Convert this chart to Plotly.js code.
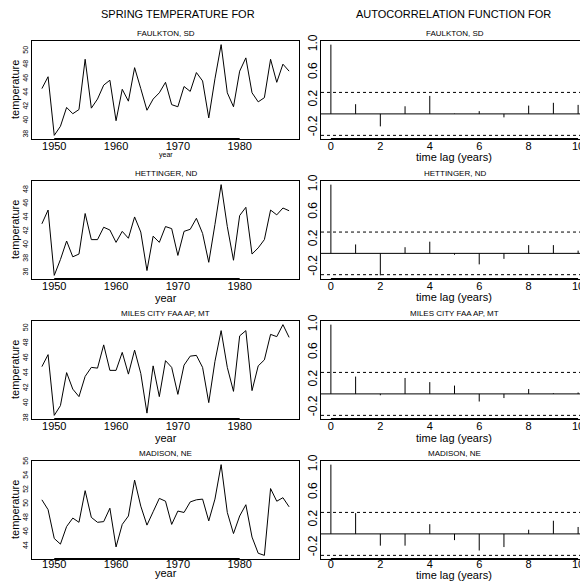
<!DOCTYPE html>
<html><head><meta charset="utf-8">
<script src="https://cdn.plot.ly/plotly-3.0.1.min.js"></script>
<style>html,body{margin:0;padding:0;overflow:hidden;background:#fff;}</style>
</head><body><div id="chart"></div>
<script>
// ---------- data ----------
const years = [1948,1949,1950,1951,1952,1953,1954,1955,1956,1957,1958,1959,1960,1961,1962,1963,1964,1965,1966,1967,1968,1969,1970,1971,1972,1973,1974,1975,1976,1977,1978,1979,1980,1981,1982,1983,1984,1985,1986,1987,1988];
const stations = ["FAULKTON, SD","HETTINGER, ND","MILES CITY FAA AP, MT","MADISON, NE"];
const faulkton = [44.6,46.3,37.9,39.2,41.9,41.0,41.6,48.8,41.8,43.1,45.1,45.8,40.0,44.5,42.8,47.6,44.6,41.5,43.1,44.0,45.5,42.3,42.0,44.9,44.2,46.9,45.7,40.4,46.0,50.9,44.0,42.0,47.1,49.0,44.0,42.7,43.3,48.8,45.5,48.1,47.1];
const hettinger = [43.1,45.1,35.6,37.9,40.6,38.3,38.7,44.6,40.8,40.8,42.6,42.2,40.4,42.0,41.0,44.1,41.9,36.3,41.3,40.4,42.7,42.4,38.5,42.0,42.3,43.9,41.7,37.5,43.0,48.8,42.7,37.8,44.3,45.5,38.7,39.6,40.8,45.1,44.4,45.4,45.0];
const milesCity = [44.9,46.5,38.4,39.7,44.1,41.9,40.9,43.6,44.8,44.7,47.8,44.4,44.4,46.8,43.9,47.1,44.0,38.7,45.0,40.9,45.7,44.8,41.2,45.1,46.3,46.4,44.8,40.1,45.6,49.7,44.8,41.6,49.0,49.7,41.7,45.0,45.8,49.2,48.9,50.5,48.8];
const madison = [50.6,49.2,45.1,44.3,46.8,48.0,47.4,51.9,48.1,47.4,47.5,49.4,43.9,47.1,48.3,53.4,49.7,47.0,48.9,50.8,50.4,47.1,49.0,48.8,50.3,50.6,50.7,47.6,50.7,55.6,48.8,45.8,48.3,49.9,45.3,43.0,42.7,52.2,50.4,50.9,49.6];
const lags = [0,1,2,3,4,5,6,7,8,9,10];
const acfFaulkton  = [1.0,0.14,-0.18,0.11,0.26,0.005,0.04,-0.05,0.12,0.16,0.13];
const acfHettinger = [1.0,0.13,-0.32,0.09,0.17,-0.02,-0.16,-0.08,0.12,0.12,0.04];
const acfMilesCity = [1.0,0.25,-0.02,0.23,0.17,0.12,-0.11,-0.06,0.07,0.01,0.02];
const acfMadison   = [1.0,0.30,-0.17,-0.17,0.14,-0.09,-0.24,-0.19,0.06,0.19,0.10];
const acfBand = 0.31;
const tempTicks = [[38,40,42,44,46,48,50],[36,38,40,42,44,46,48],[38,40,42,44,46,48,50],[44,46,48,50,52,54,56]];
const yearTicks = [1950,1960,1970,1980];
const lagTicks = [0,2,4,6,8,10];
const acfTicks = [-0.2,0.2,0.6,1.0];
const acfTickText = ["-0.2","0.2","0.6","1.0"];
const mainTitles = ["SPRING TEMPERATURE FOR","AUTOCORRELATION FUNCTION FOR"];

// ---------- layout geometry ----------
const W = 592, H = 585;
const FONT = "Liberation Sans, Arial, sans-serif";
const tsL = 32, tsR = 299, acL = 321, acR = 588;
const tops = [41,181,321,461], PH = 98;
const px = v => v / W, py = v => 1 - v / H;
const rng = (lo, hi) => { const d = (hi - lo) * 0.04; return [lo - d, hi + d]; };

const tsSeries = [faulkton, hettinger, milesCity, madison];
const acfSeries = [acfFaulkton, acfHettinger, acfMilesCity, acfMadison];

const data = [], shapes = [], annotations = [];
const layout = {
  width: W, height: H, margin: {l:0,r:0,t:0,b:0},
  paper_bgcolor: "#fff", plot_bgcolor: "#fff", showlegend: false,
  font: {family: FONT, color: "#000"}
};

const xTitleY = [[155,157],[298,297],[438,438],[573,575]];
const xTitleSize = [[7,11],[11,11],[11,11],[11,11]];

for (let r = 0; r < 4; r++) {
  const top = tops[r], bot = top + PH;
  const dom = [py(bot), py(top)];
  const a = 2*r + 1, b = 2*r + 2;
  const ts = tsSeries[r], acf = acfSeries[r];
  const stand = r === 3 ? -5 : -3;

  // time series
  data.push({type: "scatter", mode: "lines", x: years, y: ts,
    xaxis: "x" + a, yaxis: "y" + a, line: {color: "#000", width: 1}, hoverinfo: "skip"});
  layout["xaxis" + a] = {domain: [px(tsL), px(tsR)], anchor: "y" + a, range: rng(years[0], years[years.length-1]),
    tickmode: "array", tickvals: yearTicks, ticks: "", showgrid: false, zeroline: false, ticklabelstandoff: stand,
    showline: true, mirror: true, linecolor: "#000", linewidth: 1, tickfont: {size: 11, family: FONT}};
  layout["yaxis" + a] = {domain: dom, anchor: "x" + a, range: rng(Math.min(...ts), Math.max(...ts)),
    tickmode: "array", tickvals: tempTicks[r], ticks: "", showgrid: false, zeroline: false, tickangle: -90,
    showline: true, mirror: true, linecolor: "#000", linewidth: 1, tickfont: {size: 7, family: FONT}};
  shapes.push({type: "line", xref: "x" + a, yref: "y" + a + " domain", x0: yearTicks[0], x1: yearTicks[yearTicks.length-1],
    y0: 0, y1: 0, line: {color: "#000", width: 2}});

  // acf
  const sx = [], sy = [];
  lags.forEach((k, i) => { sx.push(k, k, null); sy.push(0, acf[i], null); });
  data.push({type: "scatter", mode: "lines", x: sx, y: sy, connectgaps: false,
    xaxis: "x" + b, yaxis: "y" + b, line: {color: "#000", width: 1}, hoverinfo: "skip"});
  layout["xaxis" + b] = {domain: [px(acL), px(acR)], anchor: "y" + b, range: rng(lags[0], lags[lags.length-1]),
    tickmode: "array", tickvals: lagTicks, ticks: "", showgrid: false, zeroline: false, ticklabelstandoff: stand,
    showline: true, mirror: true, linecolor: "#000", linewidth: 1, tickfont: {size: 11, family: FONT}};
  layout["yaxis" + b] = {domain: dom, anchor: "x" + b,
    range: rng(Math.min(-acfBand, ...acf), Math.max(acfBand, ...acf)),
    tickmode: "array", tickvals: acfTicks, ticktext: acfTickText, ticks: "", showgrid: false, zeroline: false,
    tickangle: -90, ticklabelstandoff: -2,
    showline: true, mirror: true, linecolor: "#000", linewidth: 1, tickfont: {size: 12, family: FONT}};
  shapes.push({type: "line", xref: "x" + b, yref: "y" + b + " domain", x0: lagTicks[0], x1: lagTicks[lagTicks.length-1],
    y0: 0, y1: 0, line: {color: "#000", width: 2}});
  shapes.push({type: "line", xref: "x" + b + " domain", yref: "y" + b, x0: 0, x1: 1, y0: 0, y1: 0,
    line: {color: "#000", width: 1}});
  [acfBand, -acfBand].forEach(v => shapes.push({type: "line", xref: "x" + b + " domain", yref: "y" + b,
    x0: 0, x1: 1, y0: v, y1: v, line: {color: "#000", width: 1, dash: "dot"}}));

  // station titles
  annotations.push({text: stations[r], xref: "paper", yref: "paper", x: px((tsL+tsR)/2), y: py(top - 1),
    xanchor: "center", yanchor: "bottom", showarrow: false, font: {size: 8, family: FONT}});
  annotations.push({text: stations[r], xref: "paper", yref: "paper", x: px((acL+acR)/2), y: py(top - 1),
    xanchor: "center", yanchor: "bottom", showarrow: false, font: {size: 8, family: FONT}});
  // axis titles
  annotations.push({text: "temperature", xref: "paper", yref: "paper", x: px(15), y: py(top + PH/2),
    xanchor: "center", yanchor: "middle", textangle: -90, showarrow: false, font: {size: 11, family: FONT}});
  annotations.push({text: "year", xref: "paper", yref: "paper", x: px((tsL+tsR)/2), y: py(xTitleY[r][0]),
    xanchor: "center", yanchor: "middle", showarrow: false, font: {size: xTitleSize[r][0], family: FONT}});
  annotations.push({text: "time lag (years)", xref: "paper", yref: "paper", x: px(454), y: py(xTitleY[r][1]),
    xanchor: "center", yanchor: "middle", showarrow: false, font: {size: xTitleSize[r][1], family: FONT}});
}
annotations.push({text: mainTitles[0], xref: "paper", yref: "paper", x: px(178), y: py(13.5),
  xanchor: "center", yanchor: "middle", showarrow: false, font: {size: 11, family: FONT}});
annotations.push({text: mainTitles[1], xref: "paper", yref: "paper", x: px(453), y: py(13.5),
  xanchor: "center", yanchor: "middle", showarrow: false, font: {size: 11, family: FONT}});

layout.shapes = shapes;
layout.annotations = annotations;
Plotly.newPlot("chart", data, layout, {staticPlot: true, displayModeBar: false});
</script></body></html>
